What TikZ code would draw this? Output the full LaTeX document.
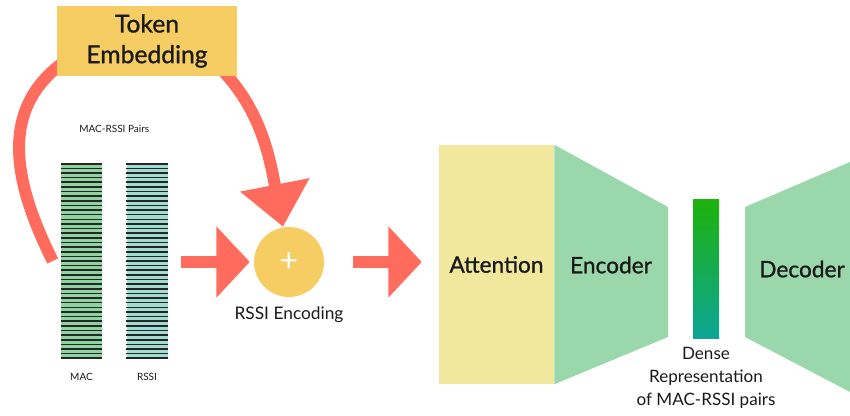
\documentclass[tikz,border=0pt]{standalone}
\usepackage{fontspec}
\setmainfont{Lato}
\newfontfamily\medfont{Lato}[FakeBold=1]
\usetikzlibrary{arrows.meta,calc,positioning}

\definecolor{coral}{HTML}{FF6B5D}
\definecolor{tokenyellow}{HTML}{F6CD62}
\definecolor{attnyellow}{HTML}{F2E89D}
\definecolor{encgreen}{HTML}{9AD8AC}
\definecolor{macgreen}{HTML}{8FD3A0}
\definecolor{rssiteal}{HTML}{A0DDD0}
\definecolor{densetop}{HTML}{1FB20C}
\definecolor{densebot}{HTML}{0CA597}
\definecolor{ink}{HTML}{1A1A1A}

\pgfdeclarelayer{back}
\pgfsetlayers{back,main}

\begin{document}
\begin{tikzpicture}[x=.75pt,y=-.75pt,
    flow/.style={draw=coral,line width=9pt,-{Triangle[length=25pt,width=52pt]}},
    bigtext/.style={font=\medfont\fontsize{17}{22.5}\selectfont,text=ink},
    midtext/.style={font=\fontsize{13}{17}\selectfont,text=ink,inner sep=1pt},
    smalltext/.style={font=\fontsize{7.5}{9}\selectfont,text=ink,inner sep=1pt},
    bar/.style={minimum width=30.75pt,minimum height=145.5pt,inner sep=0pt},
    stripe/.style={line width=1.2pt,black!85}]
    \useasboundingbox (0,0) rectangle (850,416);
    %\draw[step=50,lightgray,ultra thin] (0,0) grid (850,416);

    \node[fill=tokenyellow,minimum width=135pt,minimum height=52.5pt,align=center,bigtext,
          font=\medfont\fontsize{18.5}{23}\selectfont] (token) at (147,41) {Token\\Embedding};

    % the two token columns
    \node[bar,fill=macgreen] (mac) at (81.5,261) {};
    \node[bar,fill=rssiteal] (rssi) at (147,261) {};
    \foreach \b in {mac,rssi}
      \foreach \i in {0,...,42}
        \draw[stripe] ($(\b.north west)!\i/42!(\b.south west)$) -- ($(\b.north east)!\i/42!(\b.south east)$);
    \node[smalltext,below=10pt of mac] (maclbl) {MAC};
    \node[smalltext,below=10pt of rssi] (rssilbl) {RSSI};
    \coordinate (pairs) at ($(mac.north)!.5!(rssi.north)$);
    \node[smalltext,above=22pt of pairs] (pairslbl) {MAC-RSSI Pairs};

    \node[circle,fill=tokenyellow,minimum size=52.5pt,inner sep=0pt,text=white,font=\fontsize{24}{24}\selectfont] (plus) at (289,262) {+};
    \node[midtext,below=6pt of plus] (enclbl) {RSSI Encoding};

    % loop from the embedding back down to the columns, under the box
    \coordinate (loopout) at ([xshift=9.75pt,yshift=-12.75pt]token.west);
    \coordinate (addout) at ([xshift=-11.25pt,yshift=4.5pt]token.south east);
    \begin{pgfonlayer}{back}
      \draw[coral,line width=9pt] (loopout) .. controls (-5,107) and (15,185) .. ([xshift=-6pt]mac.west);
      \draw[flow,-{Triangle[length=32pt,width=51pt]}] (addout) .. controls (262,112) and (270,160) .. ([xshift=-4.5pt]plus.north);
    \end{pgfonlayer}

    % encoder / decoder
    \node[fill=attnyellow,minimum width=86.25pt,minimum height=179.25pt,bigtext] (attn) at (496.5,264.5) {Attention};
    \fill[encgreen] (attn.north east) -- (668,207) -- (668,337) -- (attn.south east) -- cycle;
    \node[bigtext] (enc) at (611,265) {Encoder};
    \node[minimum width=19.5pt,minimum height=104.25pt,inner sep=0pt,top color=densetop,bottom color=densebot] (dense) at (706,269.5) {};
    \node[midtext,below=5pt of dense,align=center,font=\fontsize{12.8}{17}\selectfont] (denselbl) {Dense\\Representation\\of MAC-RSSI pairs};
    \fill[encgreen] (745,207) -- (850,162) -- (850,392) -- (745,337) -- cycle;
    \node[bigtext] (dec) at (802,269) {Decoder};

    \draw[flow,shorten <=9.75pt,shorten >=3pt] (rssi.east |- plus) -- (plus.west);
    \draw[flow,shorten <=21.75pt,shorten >=12.75pt] (plus.east) -- (attn.west |- plus);
\end{tikzpicture}
\end{document}
